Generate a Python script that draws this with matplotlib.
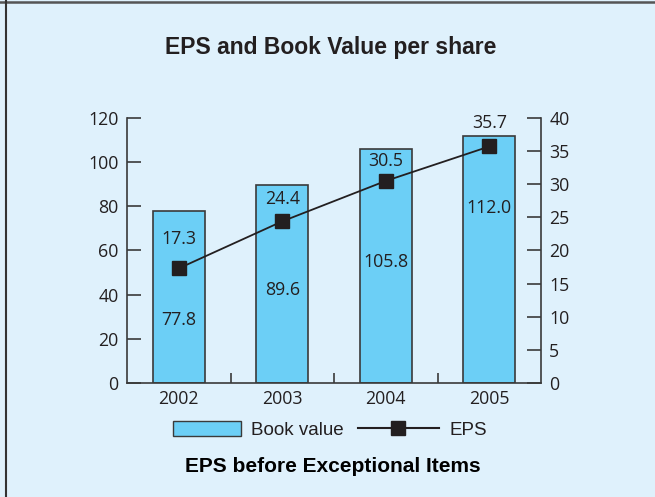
import matplotlib
matplotlib.use("Agg")
import matplotlib.pyplot as plt
from matplotlib.lines import Line2D
from matplotlib.patches import Patch, Rectangle
from matplotlib.legend_handler import HandlerPatch

years = ["2002", "2003", "2004", "2005"]
book_value = [77.8, 89.6, 105.8, 112.0]
eps = [17.3, 24.4, 30.5, 35.7]
book_labels = ["77.8", "89.6", "105.8", "112.0"]
eps_labels = ["17.3", "24.4", "30.5", "35.7"]

# where the printed numbers sit (left-axis units / points above marker)
book_label_y = [28.5, 42.0, 54.8, 79.2]
eps_label_off = [21, 16, 14, 17]

bg = "#dff1fc"
bar_col = "#6ccff6"
dark = "#231f20"
num_font = ["Open Sans", "DejaVu Sans"]
head_font = ["Liberation Sans", "DejaVu Sans"]
fs = 12.8

fig = plt.figure(figsize=(6.55, 4.97), dpi=100, facecolor=bg)
ax = fig.add_axes([0.1939, 0.2294, 0.6321, 0.5332])
ax.set_facecolor(bg)
x = list(range(len(years)))

ax.bar(x, book_value, width=0.5, color=bar_col, edgecolor="#3a3a3a", linewidth=1.2, zorder=2)
for i, lab in enumerate(book_labels):
    ax.text(x[i], book_label_y[i], lab, ha="center", va="center", fontsize=fs,
            family=num_font, color=dark, zorder=4)

ax.set_xlim(-0.5, 3.5)
ax.set_ylim(0, 120)
ax.set_yticks([0, 20, 40, 60, 80, 100, 120])
ax.set_xticks(x)
ax.set_xticklabels(years)
ax.set_xticks([0.5, 1.5, 2.5], minor=True)
ax.tick_params(axis="x", which="major", length=0, pad=5)
ax.tick_params(axis="x", which="minor", direction="in", length=7, width=1.2, color="#3a3a3a")
ax.tick_params(axis="y", direction="in", length=10, width=1.2, color="#3a3a3a", pad=6)
for s in ["top", "right"]:
    ax.spines[s].set_visible(False)
for s in ["left", "bottom"]:
    ax.spines[s].set_color("#3a3a3a")
    ax.spines[s].set_linewidth(1.2)

ax2 = ax.twinx()
ax2.set_ylim(0, 40)
ax2.set_yticks(range(0, 41, 5))
ax2.tick_params(axis="y", direction="in", length=10, width=1.2, color="#3a3a3a", pad=6)
for s in ["top", "left", "bottom"]:
    ax2.spines[s].set_visible(False)
ax2.spines["right"].set_color("#3a3a3a")
ax2.spines["right"].set_linewidth(1.2)
ax2.plot(x, eps, color=dark, linewidth=1.3, marker="s", markersize=10.5, zorder=5)
for i, lab in enumerate(eps_labels):
    ax2.annotate(lab, (x[i], eps[i]), xytext=(0, eps_label_off[i]), textcoords="offset points",
                 ha="center", va="center", fontsize=fs, family=num_font, color=dark)

for a in (ax, ax2):
    for t in a.get_xticklabels() + a.get_yticklabels():
        t.set_fontfamily(num_font)
        t.set_fontsize(fs)
        t.set_color(dark)

fig.text(0.505, 0.905, "EPS and Book Value per share", ha="center", va="center",
         fontsize=16.5, fontweight="bold", family=head_font, color=dark)
fig.text(0.508, 0.062, "EPS before Exceptional Items", ha="center", va="center",
         fontsize=15, fontweight="bold", family=head_font, color="black")


def short_box(legend, orig_handle, xdescent, ydescent, width, height, fontsize):
    # legend box is a bit shorter than the line sample
    w = width * 0.84
    return Rectangle((-xdescent + width - w, -ydescent), w, height)


handles = [Patch(facecolor=bar_col, edgecolor="#3a3a3a", linewidth=1.0),
           Line2D([0], [0], color=dark, linewidth=1.5, marker="s", markersize=10.5)]
leg = fig.legend(handles, ["Book value", "EPS"], loc="center", bbox_to_anchor=(0.494, 0.135),
                 ncol=2, frameon=False, handlelength=4.3, handleheight=0.9,
                 columnspacing=0.75, handletextpad=0.55,
                 handler_map={Patch: HandlerPatch(patch_func=short_box)},
                 prop={"family": head_font, "size": 13.5})
for t in leg.get_texts():
    t.set_color(dark)

# frame lines top and left
fig.add_artist(Line2D([0, 1], [0.995, 0.995], transform=fig.transFigure, color="#555555", linewidth=1.8))
fig.add_artist(Line2D([0.0095, 0.0095], [0, 1], transform=fig.transFigure, color="#333333", linewidth=1.5))

fig.savefig("out.png", dpi=100, facecolor=bg)
